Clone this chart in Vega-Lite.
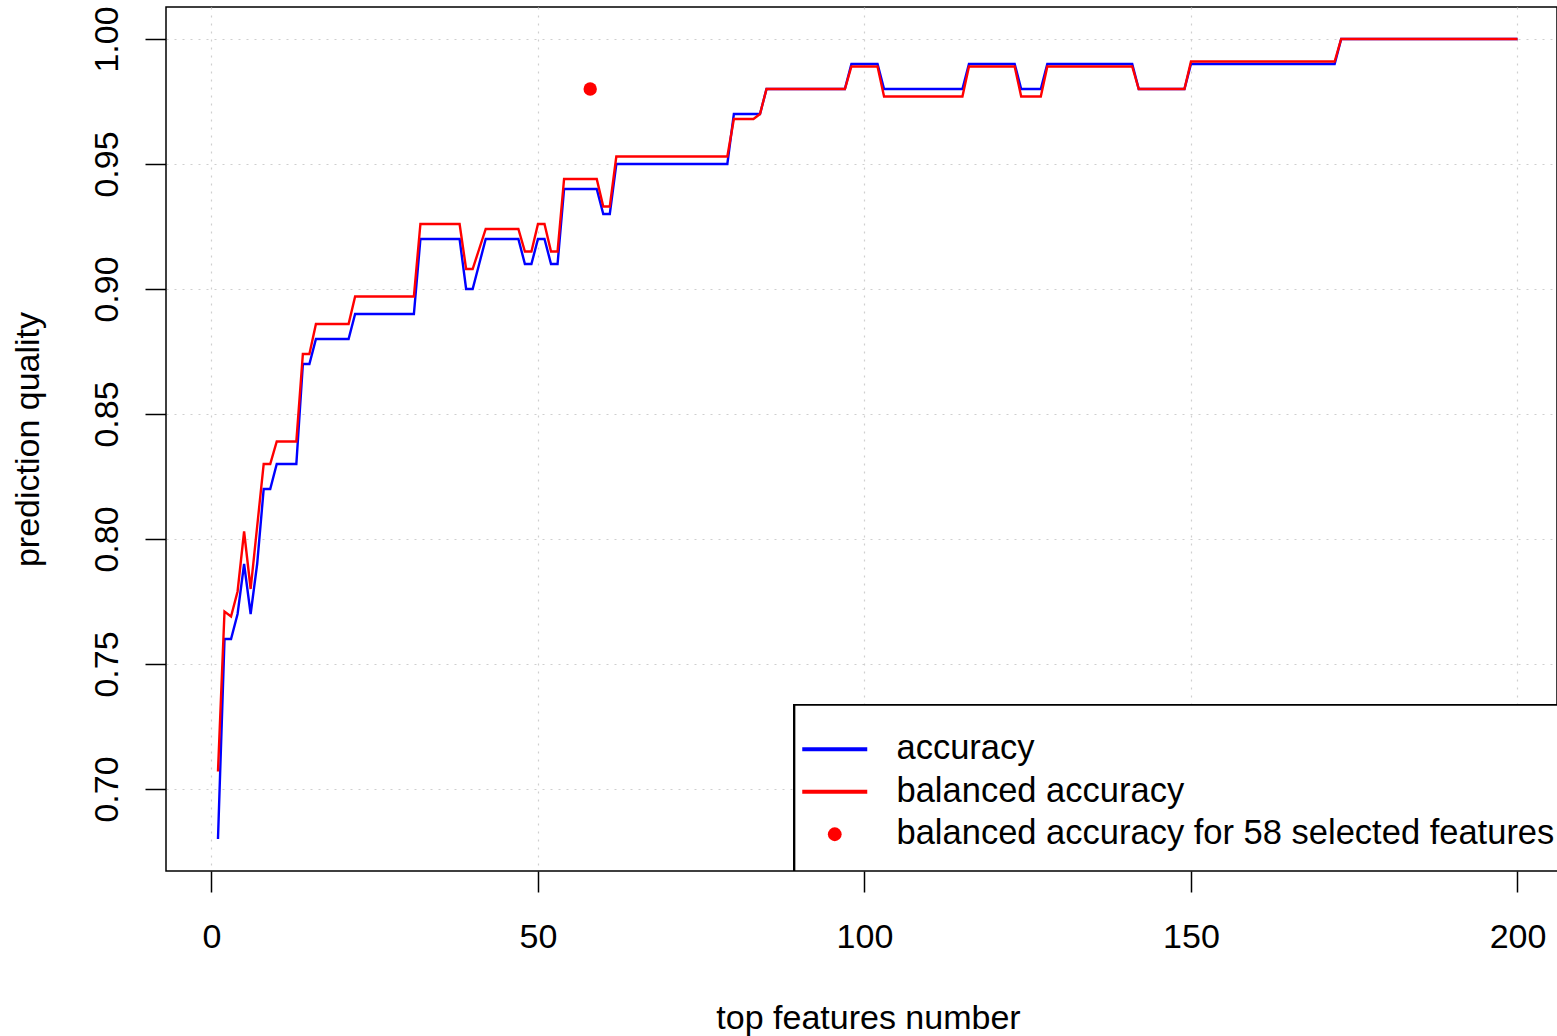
{
  "$schema": "https://vega.github.io/schema/vega-lite/v6.json",
  "width": 1391,
  "height": 864,
  "autosize": {"type": "none"},
  "padding": {"left": 166, "top": 7, "right": 0, "bottom": 165},
  "background": "white",
  "config": {
    "view": {"stroke": "black", "strokeWidth": 1.5},
    "font": "Liberation Sans",
    "axis": {
      "labelFont": "Liberation Sans", "labelFontSize": 34, "labelColor": "black",
      "titleFont": "Liberation Sans", "titleFontSize": 34, "titleFontWeight": "normal", "titleColor": "black",
      "tickColor": "black", "tickSize": 21, "tickWidth": 1.5, "domain": false,
      "gridColor": "#cfcfcf", "gridDash": [2, 6], "gridWidth": 1.2
    }
  },
  "data": {"values": [
    {"n":1,"a":0.68,"b":0.707},{"n":2,"a":0.76,"b":0.771},{"n":3,"a":0.76,"b":0.769},{"n":4,"a":0.77,"b":0.779},
    {"n":5,"a":0.79,"b":0.803},{"n":6,"a":0.77,"b":0.78},{"n":7,"a":0.79,"b":0.805},{"n":8,"a":0.82,"b":0.83},
    {"n":9,"a":0.82,"b":0.83},{"n":10,"a":0.83,"b":0.839},{"n":11,"a":0.83,"b":0.839},{"n":12,"a":0.83,"b":0.839},
    {"n":13,"a":0.83,"b":0.839},{"n":14,"a":0.87,"b":0.874},{"n":15,"a":0.87,"b":0.874},{"n":16,"a":0.88,"b":0.886},
    {"n":17,"a":0.88,"b":0.886},{"n":18,"a":0.88,"b":0.886},{"n":19,"a":0.88,"b":0.886},{"n":20,"a":0.88,"b":0.886},
    {"n":21,"a":0.88,"b":0.886},{"n":22,"a":0.89,"b":0.897},{"n":23,"a":0.89,"b":0.897},{"n":24,"a":0.89,"b":0.897},
    {"n":25,"a":0.89,"b":0.897},{"n":26,"a":0.89,"b":0.897},{"n":27,"a":0.89,"b":0.897},{"n":28,"a":0.89,"b":0.897},
    {"n":29,"a":0.89,"b":0.897},{"n":30,"a":0.89,"b":0.897},{"n":31,"a":0.89,"b":0.897},{"n":32,"a":0.92,"b":0.926},
    {"n":33,"a":0.92,"b":0.926},{"n":34,"a":0.92,"b":0.926},{"n":35,"a":0.92,"b":0.926},{"n":36,"a":0.92,"b":0.926},
    {"n":37,"a":0.92,"b":0.926},{"n":38,"a":0.92,"b":0.926},{"n":39,"a":0.90,"b":0.908},{"n":40,"a":0.90,"b":0.908},
    {"n":41,"a":0.91,"b":0.916},{"n":42,"a":0.92,"b":0.924},{"n":43,"a":0.92,"b":0.924},{"n":44,"a":0.92,"b":0.924},
    {"n":45,"a":0.92,"b":0.924},{"n":46,"a":0.92,"b":0.924},{"n":47,"a":0.92,"b":0.924},{"n":48,"a":0.91,"b":0.915},
    {"n":49,"a":0.91,"b":0.915},{"n":50,"a":0.92,"b":0.926},{"n":51,"a":0.92,"b":0.926},{"n":52,"a":0.91,"b":0.915},
    {"n":53,"a":0.91,"b":0.915},{"n":54,"a":0.94,"b":0.944},{"n":55,"a":0.94,"b":0.944},{"n":56,"a":0.94,"b":0.944},
    {"n":57,"a":0.94,"b":0.944},{"n":58,"a":0.94,"b":0.944},{"n":59,"a":0.94,"b":0.944},{"n":60,"a":0.93,"b":0.933},
    {"n":61,"a":0.93,"b":0.933},{"n":62,"a":0.95,"b":0.953},{"n":63,"a":0.95,"b":0.953},{"n":64,"a":0.95,"b":0.953},
    {"n":65,"a":0.95,"b":0.953},{"n":66,"a":0.95,"b":0.953},{"n":67,"a":0.95,"b":0.953},{"n":68,"a":0.95,"b":0.953},
    {"n":69,"a":0.95,"b":0.953},{"n":70,"a":0.95,"b":0.953},{"n":71,"a":0.95,"b":0.953},{"n":72,"a":0.95,"b":0.953},
    {"n":73,"a":0.95,"b":0.953},{"n":74,"a":0.95,"b":0.953},{"n":75,"a":0.95,"b":0.953},{"n":76,"a":0.95,"b":0.953},
    {"n":77,"a":0.95,"b":0.953},{"n":78,"a":0.95,"b":0.953},{"n":79,"a":0.95,"b":0.953},{"n":80,"a":0.97,"b":0.968},
    {"n":81,"a":0.97,"b":0.968},{"n":82,"a":0.97,"b":0.968},{"n":83,"a":0.97,"b":0.968},{"n":84,"a":0.97,"b":0.97},
    {"n":85,"a":0.98,"b":0.98},{"n":86,"a":0.98,"b":0.98},{"n":87,"a":0.98,"b":0.98},{"n":88,"a":0.98,"b":0.98},
    {"n":89,"a":0.98,"b":0.98},{"n":90,"a":0.98,"b":0.98},{"n":91,"a":0.98,"b":0.98},{"n":92,"a":0.98,"b":0.98},
    {"n":93,"a":0.98,"b":0.98},{"n":94,"a":0.98,"b":0.98},{"n":95,"a":0.98,"b":0.98},{"n":96,"a":0.98,"b":0.98},
    {"n":97,"a":0.98,"b":0.98},{"n":98,"a":0.99,"b":0.989},{"n":99,"a":0.99,"b":0.989},{"n":100,"a":0.99,"b":0.989},
    {"n":101,"a":0.99,"b":0.989},{"n":102,"a":0.99,"b":0.989},{"n":103,"a":0.98,"b":0.977},{"n":104,"a":0.98,"b":0.977},
    {"n":105,"a":0.98,"b":0.977},{"n":106,"a":0.98,"b":0.977},{"n":107,"a":0.98,"b":0.977},{"n":108,"a":0.98,"b":0.977},
    {"n":109,"a":0.98,"b":0.977},{"n":110,"a":0.98,"b":0.977},{"n":111,"a":0.98,"b":0.977},{"n":112,"a":0.98,"b":0.977},
    {"n":113,"a":0.98,"b":0.977},{"n":114,"a":0.98,"b":0.977},{"n":115,"a":0.98,"b":0.977},{"n":116,"a":0.99,"b":0.989},
    {"n":117,"a":0.99,"b":0.989},{"n":118,"a":0.99,"b":0.989},{"n":119,"a":0.99,"b":0.989},{"n":120,"a":0.99,"b":0.989},
    {"n":121,"a":0.99,"b":0.989},{"n":122,"a":0.99,"b":0.989},{"n":123,"a":0.99,"b":0.989},{"n":124,"a":0.98,"b":0.977},
    {"n":125,"a":0.98,"b":0.977},{"n":126,"a":0.98,"b":0.977},{"n":127,"a":0.98,"b":0.977},{"n":128,"a":0.99,"b":0.989},
    {"n":129,"a":0.99,"b":0.989},{"n":130,"a":0.99,"b":0.989},{"n":131,"a":0.99,"b":0.989},{"n":132,"a":0.99,"b":0.989},
    {"n":133,"a":0.99,"b":0.989},{"n":134,"a":0.99,"b":0.989},{"n":135,"a":0.99,"b":0.989},{"n":136,"a":0.99,"b":0.989},
    {"n":137,"a":0.99,"b":0.989},{"n":138,"a":0.99,"b":0.989},{"n":139,"a":0.99,"b":0.989},{"n":140,"a":0.99,"b":0.989},
    {"n":141,"a":0.99,"b":0.989},{"n":142,"a":0.98,"b":0.98},{"n":143,"a":0.98,"b":0.98},{"n":144,"a":0.98,"b":0.98},
    {"n":145,"a":0.98,"b":0.98},{"n":146,"a":0.98,"b":0.98},{"n":147,"a":0.98,"b":0.98},{"n":148,"a":0.98,"b":0.98},
    {"n":149,"a":0.98,"b":0.98},{"n":150,"a":0.99,"b":0.991},{"n":151,"a":0.99,"b":0.991},{"n":152,"a":0.99,"b":0.991},
    {"n":153,"a":0.99,"b":0.991},{"n":154,"a":0.99,"b":0.991},{"n":155,"a":0.99,"b":0.991},{"n":156,"a":0.99,"b":0.991},
    {"n":157,"a":0.99,"b":0.991},{"n":158,"a":0.99,"b":0.991},{"n":159,"a":0.99,"b":0.991},{"n":160,"a":0.99,"b":0.991},
    {"n":161,"a":0.99,"b":0.991},{"n":162,"a":0.99,"b":0.991},{"n":163,"a":0.99,"b":0.991},{"n":164,"a":0.99,"b":0.991},
    {"n":165,"a":0.99,"b":0.991},{"n":166,"a":0.99,"b":0.991},{"n":167,"a":0.99,"b":0.991},{"n":168,"a":0.99,"b":0.991},
    {"n":169,"a":0.99,"b":0.991},{"n":170,"a":0.99,"b":0.991},{"n":171,"a":0.99,"b":0.991},{"n":172,"a":0.99,"b":0.991},
    {"n":173,"a":1.0,"b":1.0},{"n":174,"a":1.0,"b":1.0},{"n":175,"a":1.0,"b":1.0},{"n":176,"a":1.0,"b":1.0},
    {"n":177,"a":1.0,"b":1.0},{"n":178,"a":1.0,"b":1.0},{"n":179,"a":1.0,"b":1.0},{"n":180,"a":1.0,"b":1.0},
    {"n":181,"a":1.0,"b":1.0},{"n":182,"a":1.0,"b":1.0},{"n":183,"a":1.0,"b":1.0},{"n":184,"a":1.0,"b":1.0},
    {"n":185,"a":1.0,"b":1.0},{"n":186,"a":1.0,"b":1.0},{"n":187,"a":1.0,"b":1.0},{"n":188,"a":1.0,"b":1.0},
    {"n":189,"a":1.0,"b":1.0},{"n":190,"a":1.0,"b":1.0},{"n":191,"a":1.0,"b":1.0},{"n":192,"a":1.0,"b":1.0},
    {"n":193,"a":1.0,"b":1.0},{"n":194,"a":1.0,"b":1.0},{"n":195,"a":1.0,"b":1.0},{"n":196,"a":1.0,"b":1.0},
    {"n":197,"a":1.0,"b":1.0},{"n":198,"a":1.0,"b":1.0},{"n":199,"a":1.0,"b":1.0},{"n":200,"a":1.0,"b":1.0}
  ]},
  "layer": [
    {
      "mark": {"type": "line", "stroke": "#0000ff", "strokeWidth": 2.4, "clip": true},
      "encoding": {
        "x": {"field": "n", "type": "quantitative",
          "scale": {"domain": [-6.96, 206.05], "nice": false, "zero": false},
          "axis": {"values": [0, 50, 100, 150, 200], "grid": true, "title": "top features number",
            "labelBaseline": "alphabetic", "labelPadding": 55,
            "titleX": 702, "titleY": 157, "titleBaseline": "alphabetic", "titleAlign": "center", "titleAnchor": null}},
        "y": {"field": "a", "type": "quantitative",
          "scale": {"domain": [0.6672, 1.0128], "nice": false, "zero": false},
          "axis": {"values": [0.7, 0.75, 0.8, 0.85, 0.9, 0.95, 1.0], "format": ".2f", "grid": true,
            "title": "prediction quality",
            "labelAngle": -90, "labelAlign": "center", "labelBaseline": "alphabetic", "labelPadding": 28,
            "titleAngle": -90, "titleX": -128, "titleY": 432, "titleBaseline": "alphabetic", "titleAlign": "center", "titleAnchor": null}},
        "color": {"datum": "accuracy", "type": "nominal",
          "scale": {"domain": ["accuracy", "balanced accuracy", "balanced accuracy for 58 selected features"],
                    "range": ["#0000ff", "#ff0000", "#ff0000"]},
          "legend": {
            "orient": "none", "legendX": 651.5, "legendY": 725, "title": null,
            "labelFont": "Liberation Sans", "labelFontSize": 34.5, "labelColor": "black", "labelOffset": 44.5,
            "labelLimit": 1000,
            "symbolType": "stroke", "symbolSize": 4225, "symbolStrokeWidth": 4, "rowPadding": 7.5,
            "encode": {"symbols": {"update": {
              "shape": {"signal": "datum.value === 'balanced accuracy for 58 selected features' ? 'circle' : 'stroke'"},
              "size": {"signal": "datum.value === 'balanced accuracy for 58 selected features' ? 190 : 4225"},
              "fill": {"signal": "datum.value === 'balanced accuracy for 58 selected features' ? '#ff0000' : 'transparent'"},
              "strokeWidth": {"signal": "datum.value === 'balanced accuracy for 58 selected features' ? 0 : 4"}
            }}}
          }}
      }
    },
    {
      "mark": {"type": "line", "stroke": "#ff0000", "strokeWidth": 2.4, "clip": true},
      "encoding": {
        "x": {"field": "n", "type": "quantitative"},
        "y": {"field": "b", "type": "quantitative"},
        "color": {"datum": "balanced accuracy", "type": "nominal"}
      }
    },
    {
      "data": {"values": [{"n": 58, "v": 0.98}]},
      "mark": {"type": "point", "filled": true, "size": 180, "opacity": 1, "fill": "#ff0000", "strokeWidth": 0},
      "encoding": {
        "x": {"field": "n", "type": "quantitative"},
        "y": {"field": "v", "type": "quantitative"},
        "color": {"datum": "balanced accuracy for 58 selected features", "type": "nominal"}
      }
    },
    {
      "mark": {"type": "rect", "fill": "white", "stroke": "black", "strokeWidth": 1.5, "clip": true},
      "encoding": {
        "x": {"datum": 89.3}, "x2": {"datum": 215},
        "y": {"datum": 0.6672}, "y2": {"datum": 0.7336}
      }
    }
  ]
}
